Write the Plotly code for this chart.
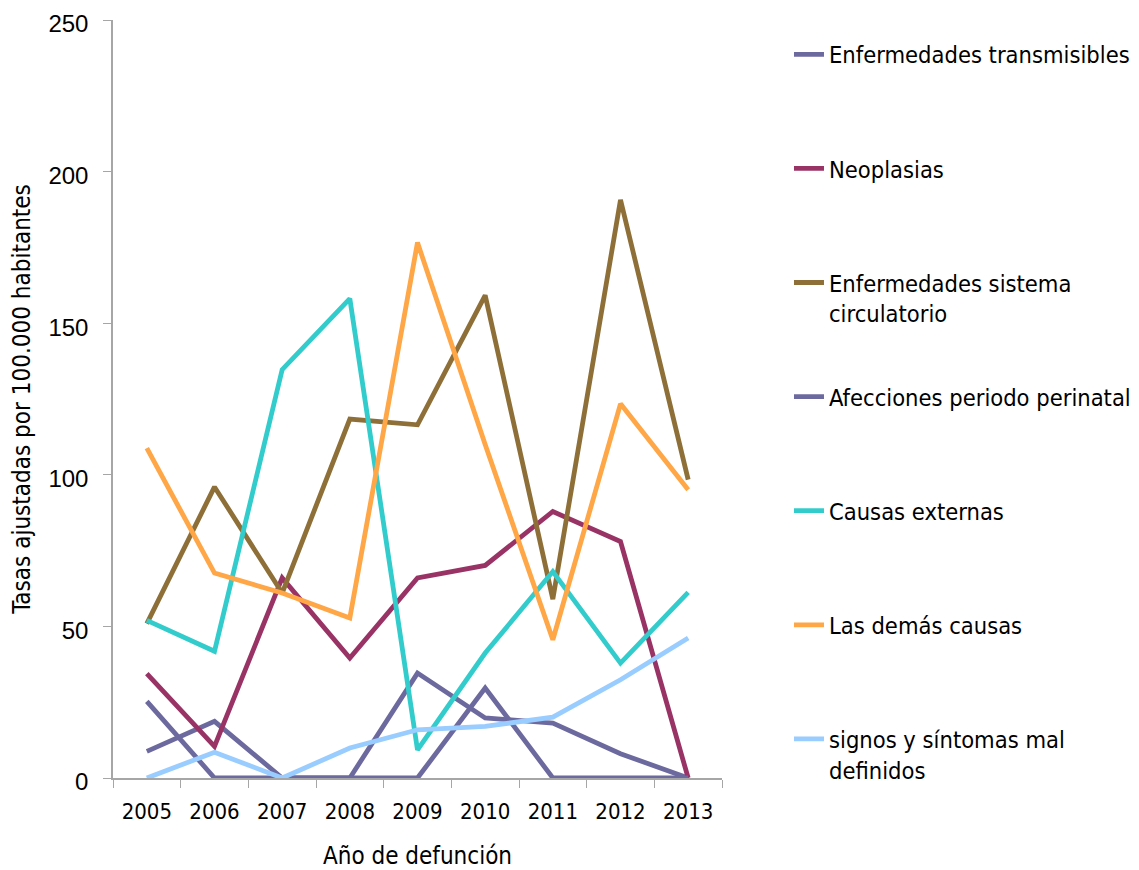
import plotly.graph_objects as go

years = ["2005", "2006", "2007", "2008", "2009", "2010", "2011", "2012", "2013"]

transmisibles = [8.8, 18.7, 0, 0, 34.6, 19.8, 18.1, 8.0, 0]
neoplasias = [34.4, 10.4, 66.0, 39.6, 66.0, 70.1, 87.9, 78.0, 0]
circulatorio = [50.9, 96.0, 61.0, 118.4, 116.5, 159.2, 59.0, 190.7, 98.4]
perinatal = [25.3, 0, 0, 0, 0, 29.7, 0, 0, 0]
externas = [52.0, 41.8, 134.7, 158.1, 9.3, 41.2, 68.1, 37.9, 61.2]
demas = [108.8, 67.6, 61.0, 52.8, 176.6, 110.0, 45.6, 123.4, 95.1]
signos = [0, 8.5, 0, 9.9, 15.9, 17.0, 20.1, 32.4, 46.2]

series = [
    ("Enfermedades transmisibles<br> ", transmisibles, "#6B699E"),
    ("Neoplasias<br> ", neoplasias, "#993366"),
    ("Enfermedades sistema<br>circulatorio", circulatorio, "#8E6F38"),
    ("Afecciones periodo perinatal<br> ", perinatal, "#6B699E"),
    ("Causas externas<br> ", externas, "#33CCCC"),
    ("Las demás causas<br> ", demas, "#FFA647"),
    ("signos y síntomas mal<br>definidos", signos, "#99CCFF"),
]

narrow = "Liberation Sans Narrow, Arial Narrow, DejaVu Sans Condensed, sans-serif"

fig = go.Figure()
for i, (name, vals, col) in enumerate(series):
    fig.add_trace(go.Scatter(
        x=years, y=vals, mode="lines", name=name,
        line=dict(color=col, width=4.8),
        legendgroup=f"g{i}",
    ))

fig.update_layout(
    width=1131, height=862,
    margin=dict(l=105, r=417, t=12, b=92, autoexpand=False),
    plot_bgcolor="white", paper_bgcolor="white",
    font=dict(family=narrow, size=23, color="black"),
    showlegend=True,
    legend=dict(
        x=1.11, xanchor="left", y=0.9835, yanchor="top",
        valign="top", tracegroupgap=50, maxheight=900,
        font=dict(family=narrow, size=23.5, color="black"),
        bgcolor="rgba(0,0,0,0)",
    ),
    xaxis=dict(
        type="category", range=[-0.5, 8.5], automargin=False,
        tickson="boundaries", ticks="outside", ticklen=8,
        tickcolor="#A6A6A6", showline=True, linecolor="#A6A6A6",
        linewidth=1.5, showgrid=False, zeroline=False,
        tickfont=dict(family=narrow, size=22), ticklabelstandoff=13,
        ticklabeloverflow="allow",
        title=dict(text="Año de defunción", font=dict(family=narrow, size=24), standoff=26),
    ),
    yaxis=dict(
        range=[0, 250], dtick=50, tick0=0, automargin=False,
        ticks="outside", ticklen=8, tickcolor="#A6A6A6",
        showline=True, linecolor="#A6A6A6", linewidth=1.5,
        showgrid=False, zeroline=False,
        tickfont=dict(family="Liberation Sans, Arial, sans-serif", size=24),
        ticklabelstandoff=10, ticklabeloverflow="allow", ticklabelshift=4,
        title=dict(text="Tasas ajustadas por 100.000 habitantes", font=dict(family=narrow, size=24), standoff=14),
    ),
)

fig.write_html("out.html")
